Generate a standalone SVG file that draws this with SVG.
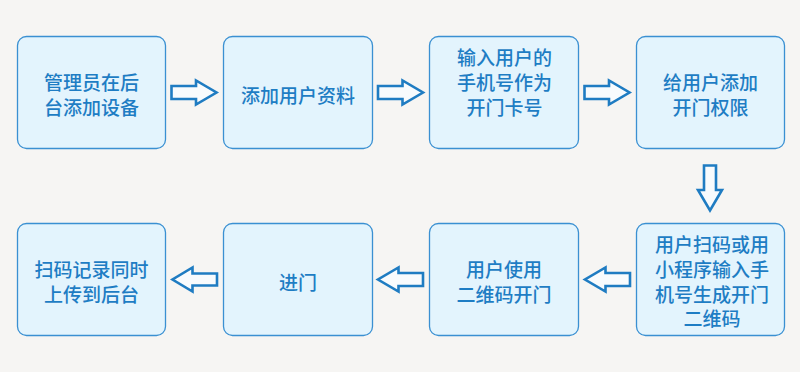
<svg xmlns="http://www.w3.org/2000/svg" width="800" height="372" viewBox="0 0 800 372">
<style>
.box{fill:#e3f4fd;stroke:#3a90d2;stroke-width:1.3}
.t{font-family:"Noto Sans CJK SC","Noto Sans",sans-serif;font-size:19px;font-weight:500;fill:#1e7dc4;text-anchor:middle;dominant-baseline:central}
.arr{fill:#f8fbfd;stroke:#1f7cc2;stroke-width:2.6;stroke-linejoin:miter}
</style>
<rect width="800" height="372" fill="#f6f5f3"/>
<g id="n1"><rect class="box" x="17.5" y="36.5" width="148" height="112" rx="9"/><text class="t" x="91.5" y="81.7">管理员在后</text><text class="t" x="91.5" y="106.2">台添加设备</text></g>
<g id="n2"><rect class="box" x="223.5" y="36.5" width="149" height="112" rx="9"/><text class="t" x="298" y="94">添加用户资料</text></g>
<g id="n3"><rect class="box" x="429.5" y="36.5" width="149" height="112" rx="9"/><text class="t" x="504.5" y="56.7">输入用户的</text><text class="t" x="504.5" y="81.7">手机号作为</text><text class="t" x="504.5" y="106.2">开门卡号</text></g>
<g id="n4"><rect class="box" x="636.5" y="36.5" width="148" height="112" rx="9"/><text class="t" x="710.5" y="81.7">给用户添加</text><text class="t" x="710.5" y="106.2">开门权限</text></g>
<g id="n5"><rect class="box" x="636.5" y="223.5" width="148" height="112" rx="9"/><text class="t" x="712" y="243.3">用户扫码或用</text><text class="t" x="712" y="268.3">小程序输入手</text><text class="t" x="712" y="293.3">机号生成开门</text><text class="t" x="712" y="317.7">二维码</text></g>
<g id="n6"><rect class="box" x="429.5" y="223.5" width="149" height="112" rx="9"/><text class="t" x="504" y="268.3">用户使用</text><text class="t" x="504" y="293.3">二维码开门</text></g>
<g id="n7"><rect class="box" x="223.5" y="223.5" width="149" height="112" rx="9"/><text class="t" x="298" y="281.7">进门</text></g>
<g id="n8"><rect class="box" x="17.5" y="223.5" width="148" height="112" rx="9"/><text class="t" x="91.5" y="268.3">扫码记录同时</text><text class="t" x="91.5" y="293.3">上传到后台</text></g>
<g id="connectors">
<path class="arr" d="M171.5,86 H196 V80.5 L216.5,92.5 L196,104.5 V99 H171.5 Z"/>
<path class="arr" d="M378,86 H402.5 V80.5 L423,92.5 L402.5,104.5 V99 H378 Z"/>
<path class="arr" d="M584.5,86 H609 V80.5 L629.5,92.5 L609,104.5 V99 H584.5 Z"/>
<path class="arr" d="M704,165.5 V190 H698 L710,210.5 L722,190 H716 V165.5 Z"/>
<path class="arr" d="M630,273 H605.5 V267.5 L585,279.5 L605.5,291.5 V286 H630 Z"/>
<path class="arr" d="M423,273 H398.5 V267.5 L378,279.5 L398.5,291.5 V286 H423 Z"/>
<path class="arr" d="M217,273.5 H192.5 V267.5 L172.5,279.5 L192.5,291.5 V285.5 H217 Z"/>
</g>
</svg>
